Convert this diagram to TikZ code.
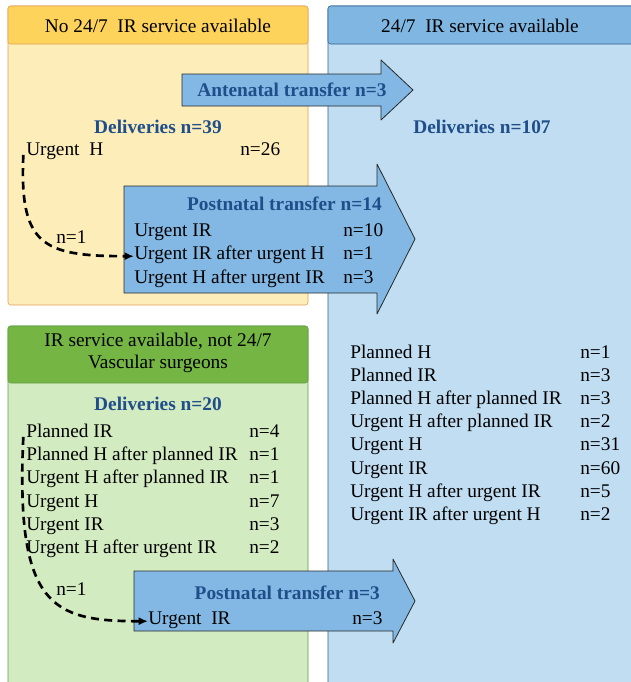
\documentclass[tikz,border=0pt]{standalone}
\usepackage{fontspec}
\setmainfont{Liberation Serif}
\usetikzlibrary{arrows.meta}

\definecolor{yelhead}{RGB}{254,211,92}
\definecolor{yelbody}{RGB}{253,237,184}
\definecolor{yelline}{RGB}{226,160,88}
\definecolor{bluhead}{RGB}{128,183,226}
\definecolor{blubody}{RGB}{192,221,242}
\definecolor{bluline}{RGB}{52,96,142}
\definecolor{grnhead}{RGB}{116,181,68}
\definecolor{grnbody}{RGB}{211,235,192}
\definecolor{grnline}{RGB}{100,158,74}
\definecolor{arrfill}{RGB}{130,184,227}
\definecolor{arrline}{RGB}{40,40,40}
\definecolor{ttlblue}{RGB}{31,78,138}

\tikzset{
  every node/.style={font=\fontsize{14.5}{16.5}\selectfont},
  lbl/.style={anchor=west,inner sep=0pt,text height=0.7em,text depth=0.2em,yshift=-2.4pt},
  ttl/.style={inner sep=0pt,text=ttlblue,font=\fontsize{14.5}{16.5}\selectfont\bfseries},
  hdr/.style={inner sep=0pt,align=center},
  blockarrow/.style={draw=arrline,fill=arrfill,line width=0.6pt,line join=round},
  flow/.style={line width=2pt,dash pattern=on 6pt off 4pt,-{Latex[length=7pt,width=6pt]}}
}

\begin{document}
\begin{tikzpicture}[x=0.75pt,y=0.75pt,yscale=-1,xscale=1]
    \clip (0,0) rectangle (631,682);
    \fill[white] (0,0) rectangle (631,682);
    %Shape: Rectangle, no 24/7 service
    \draw[yelline,fill=yelbody,rounded corners=2pt] (8,6) rectangle (308,305);
    \draw[yelline,fill=yelhead,rounded corners=2pt] (8,6) rectangle (308,44);
    %Shape: Rectangle, 24/7 service
    \draw[bluline,fill=blubody,rounded corners=2pt] (328,6) rectangle (660,700);
    \draw[bluline,fill=bluhead,rounded corners=2pt] (328,6) rectangle (660,44);
    %Shape: Rectangle, not 24/7
    \draw[grnline,fill=grnbody,rounded corners=2pt] (8,326) rectangle (308,700);
    \draw[grnline,fill=grnhead,rounded corners=2pt] (8,326) rectangle (308,383);

    %Shape: Right Arrow, antenatal
    \draw[blockarrow] (182,74) -- (381,74) -- (381,60) -- (413,90) -- (381,120) -- (381,106) -- (182,106) -- cycle;
    %Shape: Right Arrow, postnatal top
    \draw[blockarrow] (124,186) -- (377,186) -- (377,164) -- (415,239) -- (377,314) -- (377,293) -- (124,293) -- cycle;
    %Shape: Right Arrow, postnatal bottom
    \draw[blockarrow] (134,571) -- (393,571) -- (393,559) -- (415,601) -- (393,643) -- (393,631) -- (134,631) -- cycle;

    % Text Node
    \node[hdr] (hdrNo) at (158,26) {No 24/7\ \ IR service available};
    \node[hdr] (hdrFull) at (480,26) {24/7\ \ IR service available};
    \node[hdr] (hdrPart) at (158,353) {IR service available, not 24/7\\Vascular surgeons};

    % Text Node
    \node[ttl] (delNo) at (158,127) {Deliveries n=39};
    \node[ttl] (delFull) at (482,127) {Deliveries n=107};
    \node[ttl] (delPart) at (158,404) {Deliveries n=20};
    \node[ttl] (ante) at (292,90) {Antenatal transfer n=3};
    \node[ttl,anchor=east] (postA) at (382,204) {Postnatal transfer n=14};
    \node[ttl,anchor=east] (postB) at (380,593) {Postnatal transfer n=3};

    % Text Node
    \node[lbl] (noUH) at (26,149) {Urgent\ \ H};
    \node[lbl] at (240,149) {n=26};

    % Text Node
    \node[lbl] (paUIR) at (134,230) {Urgent IR};
    \node[lbl] at (343,230) {n=10};
    \node[lbl] (paUIRaUH) at (134,253) {Urgent IR after urgent H};
    \node[lbl] at (343,253) {n=1};
    \node[lbl] (paUHaUIR) at (134,277) {Urgent H after urgent IR};
    \node[lbl] at (343,277) {n=3};

    % Text Node
    \foreach \txt/\val [count=\i] in {Planned H/n=1, Planned IR/n=3,
        Planned H after planned IR/n=3, Urgent H after planned IR/n=2,
        Urgent H/n=31, Urgent IR/n=60, Urgent H after urgent IR/n=5,
        Urgent IR after urgent H/n=2}
    {
      \node[lbl] (full\i) at (350,352+23.1*\i-23.1) {\txt};
      \node[lbl] (fullv\i) at (580,352+23.1*\i-23.1) {\val};
    }

    % Text Node
    \foreach \txt/\val [count=\i] in {Planned IR/n=4, Planned H after planned IR/n=1,
        Urgent H after planned IR/n=1, Urgent H/n=7, Urgent IR/n=3,
        Urgent H after urgent IR/n=2}
    {
      \node[lbl] (part\i) at (26,431+23.2*\i-23.2) {\txt};
      \node[lbl] (partv\i) at (249,431+23.2*\i-23.2) {\val};
    }

    % Text Node
    \node[lbl] (pbUIR) at (148,618) {Urgent\ \ IR};
    \node[lbl] at (352,618) {n=3};

    %Curve Lines
    \draw[flow] ([xshift=-2pt,yshift=2pt]noUH.west) .. controls +(-4,90) and +(-92,0) .. (paUIRaUH.west);
    \node[lbl] (noN) at (56,237) {n=1};
    \draw[flow] ([xshift=-2pt,yshift=2pt]part1.west) .. controls +(-8,170) and +(-96,0) .. (pbUIR.west);
    \node[lbl] (partN) at (56,589) {n=1};
\end{tikzpicture}
\end{document}
